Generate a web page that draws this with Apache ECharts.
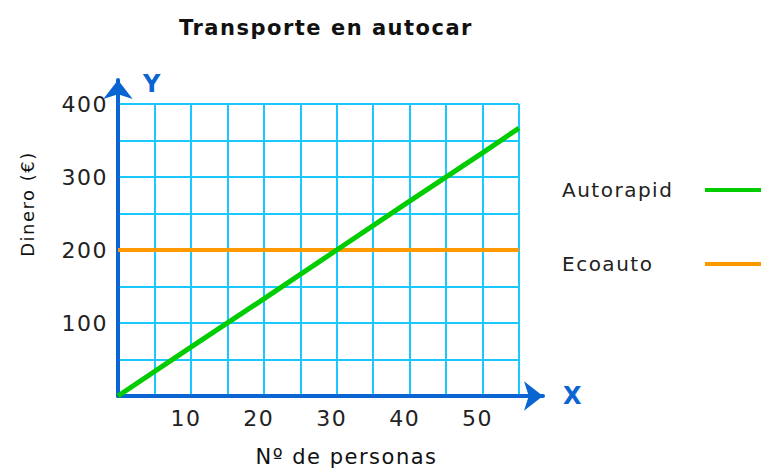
<!DOCTYPE html>
<html>
<head>
<meta charset="utf-8">
<script src="https://cdn.jsdelivr.net/npm/echarts@6/dist/echarts.min.js"></script>
<style>
  html, body { margin: 0; padding: 0; background: #fff; }
  #main { width: 761px; height: 468px; }
  /* el original tiene letras bastante espaciadas */
  #main text { letter-spacing: 1.5px; }
</style>
</head>
<body>
<div id="main"></div>
<script>
// datos
var personas = [0, 10, 20, 30, 40, 50, 55];
var autorapid = [0, 67, 133, 200, 267, 333, 367];
var ecoauto = [200, 200, 200, 200, 200, 200, 200];
var xTicks = [10, 20, 30, 40, 50];
var yTicks = [100, 200, 300, 400];

var font = 'DejaVu Sans';
var azul = '#0a64d2';

function pares (ys) {
  return personas.map(function (x, i) { return [x, ys[i]]; });
}

var myChart = echarts.init(document.getElementById('main'), null, { renderer: 'svg' });

var option = {
  animation: false,
  title: {
    text: 'Transporte en autocar',
    left: 174,
    top: 12,
    textStyle: { fontFamily: font, fontWeight: 'bold', fontSize: 21, color: '#111' }
  },
  legend: {
    orient: 'vertical',
    left: 557,
    top: 175,
    align: 'right',
    itemWidth: 61,
    itemHeight: 4,
    itemGap: 54,
    formatter: '{a|{name}}',
    textStyle: {
      fontFamily: font,
      fontSize: 20,
      color: '#222',
      rich: { a: { fontFamily: font, fontSize: 20, color: '#222', width: 138, align: 'left', lineHeight: 24 } }
    },
    data: [
      { name: 'Autorapid', icon: 'rect' },
      { name: 'Ecoauto', icon: 'rect' }
    ]
  },
  grid: [
    { left: 118, right: 242, top: 104, bottom: 72, outerBoundsMode: 'none' },
    // solo para los ejes con flecha
    { left: 118, right: 218, top: 80, bottom: 72, outerBoundsMode: 'none' }
  ],
  xAxis: [
    {
      type: 'value',
      gridIndex: 0,
      min: 0,
      max: 55,
      interval: 5,
      axisLine: { show: false },
      axisTick: { show: false },
      splitLine: { lineStyle: { color: '#19c8ff', width: 2 } },
      axisLabel: {
        margin: 11,
        padding: [0, 10, 0, 0],
        fontFamily: font,
        fontSize: 22,
        color: '#222',
        formatter: function (v) { return xTicks.indexOf(v) >= 0 ? v : ''; }
      },
      name: 'Nº de personas',
      nameLocation: 'middle',
      nameGap: 50,
      nameTextStyle: { fontFamily: font, fontSize: 21, color: '#111', padding: [0, 0, 0, 56] }
    },
    {
      type: 'value',
      gridIndex: 1,
      axisLine: {
        show: true,
        symbol: ['none', 'arrow'],
        symbolSize: [22, 19],
        lineStyle: { color: azul, width: 4 }
      },
      axisTick: { show: false },
      axisLabel: { show: false },
      splitLine: { show: false },
      name: 'X',
      nameGap: 20,
      nameTextStyle: { fontFamily: font, fontWeight: 'bold', fontSize: 24, color: azul, align: 'left', verticalAlign: 'middle' }
    }
  ],
  yAxis: [
    {
      type: 'value',
      gridIndex: 0,
      min: 0,
      max: 400,
      interval: 50,
      axisLine: { show: false },
      axisTick: { show: false },
      splitLine: { lineStyle: { color: '#19c8ff', width: 2 } },
      axisLabel: {
        margin: 10,
        fontFamily: font,
        fontSize: 22,
        color: '#222',
        formatter: function (v) { return yTicks.indexOf(v) >= 0 ? v : ''; }
      },
      name: 'Dinero (€)',
      nameLocation: 'middle',
      nameGap: 82,
      nameTextStyle: { fontFamily: font, fontSize: 18, color: '#111', padding: [0, 0, 0, 92] }
    },
    {
      type: 'value',
      gridIndex: 1,
      axisLine: {
        show: true,
        symbol: ['none', 'arrow'],
        symbolSize: [22, 19],
        lineStyle: { color: azul, width: 4 }
      },
      axisTick: { show: false },
      axisLabel: { show: false },
      splitLine: { show: false },
      name: 'Y',
      nameGap: -4,
      nameTextStyle: { fontFamily: font, fontWeight: 'bold', fontSize: 24, color: azul, align: 'left', verticalAlign: 'middle', padding: [0, 0, 0, 25] }
    }
  ],
  series: [
    {
      name: 'Ecoauto',
      type: 'line',
      xAxisIndex: 0,
      yAxisIndex: 0,
      showSymbol: false,
      silent: true,
      color: '#ff9900',
      lineStyle: { color: '#ff9900', width: 4 },
      data: pares(ecoauto)
    },
    {
      name: 'Autorapid',
      type: 'line',
      xAxisIndex: 0,
      yAxisIndex: 0,
      showSymbol: false,
      silent: true,
      color: '#00cc00',
      lineStyle: { color: '#00cc00', width: 5 },
      data: pares(autorapid)
    }
  ]
};

myChart.setOption(option);
</script>
</body>
</html>
